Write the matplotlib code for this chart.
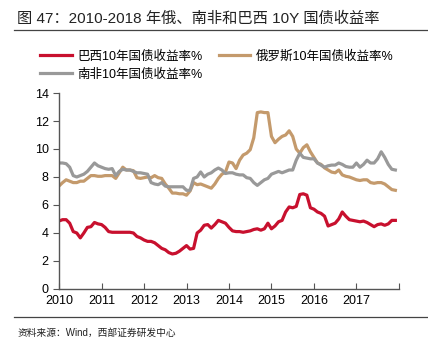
import matplotlib
matplotlib.use('Agg')
import matplotlib.pyplot as plt
import numpy as np

plt.rcParams['font.family'] = ['Liberation Sans', 'Noto Sans CJK SC', 'DejaVu Sans']

# monthly data, Jan 2010 .. Dec 2017
brazil = [4.86, 4.95, 4.95, 4.7, 4.1, 4.0, 3.65, 4.0, 4.4, 4.45, 4.75, 4.65,
          4.6, 4.4, 4.1, 4.05, 4.05, 4.05, 4.05, 4.05, 4.05, 4.0, 3.75, 3.65,
          3.5, 3.4, 3.4, 3.3, 3.1, 2.9, 2.8, 2.6, 2.5, 2.55, 2.7, 2.9,
          3.1, 2.85, 2.9, 4.0, 4.2, 4.55, 4.6, 4.35, 4.6, 4.9, 4.8, 4.7,
          4.4, 4.15, 4.1, 4.1, 4.05, 4.1, 4.15, 4.25, 4.3, 4.2, 4.3, 4.7,
          4.3, 4.5, 4.8, 4.9, 5.5, 5.86, 5.8, 5.9, 6.75, 6.8, 6.7, 5.8,
          5.7, 5.5, 5.4, 5.2, 4.5, 4.6, 4.7, 5.0, 5.5, 5.2, 4.95, 4.9,
          4.85, 4.8, 4.85, 4.75, 4.6, 4.45, 4.6, 4.65, 4.55, 4.65, 4.9, 4.9]
russia = [7.36, 7.6, 7.8, 7.7, 7.6, 7.6, 7.7, 7.7, 7.9, 8.1, 8.1, 8.05,
          8.05, 8.1, 8.1, 8.1, 7.9, 8.3, 8.7, 8.5, 8.5, 8.45, 7.95, 7.9,
          7.95, 8.0, 7.95, 8.1, 7.95, 7.9, 7.5, 7.2, 6.85, 6.85, 6.8, 6.8,
          6.7, 7.0, 7.6, 7.45, 7.5, 7.4, 7.3, 7.2, 7.5, 7.9, 8.2, 8.35,
          9.07, 9.0, 8.6, 9.2, 9.57, 9.7, 9.95, 10.8, 12.6, 12.65, 12.6, 12.6,
          10.9, 10.45, 10.7, 10.9, 11.0, 11.3, 10.9, 10.0, 9.7, 10.1, 10.3, 9.8,
          9.4, 9.0, 8.9, 8.65, 8.5, 8.35, 8.3, 8.5, 8.15, 8.05, 8.0, 7.9,
          7.8, 7.75, 7.8, 7.8, 7.6, 7.55, 7.6, 7.6, 7.5, 7.3, 7.1, 7.05]
safrica = [9.0, 9.0, 8.95, 8.7, 8.1, 8.0, 8.1, 8.2, 8.4, 8.7, 9.0, 8.8,
           8.7, 8.6, 8.55, 8.6, 8.1, 8.4, 8.55, 8.5, 8.5, 8.4, 8.3, 8.3,
           8.25, 8.2, 7.6, 7.5, 7.45, 7.6, 7.35, 7.3, 7.3, 7.3, 7.3, 7.3,
           7.05, 7.05, 7.9, 8.0, 8.36, 8.0, 8.2, 8.3, 8.5, 8.64, 8.5, 8.25,
           8.3, 8.3, 8.2, 8.15, 8.15, 7.95, 7.9, 7.6, 7.4, 7.6, 7.8, 7.9,
           8.2, 8.3, 8.4, 8.3, 8.4, 8.5, 8.5, 9.2, 9.7, 9.4, 9.35, 9.3,
           9.3, 9.0, 8.85, 8.7, 8.8, 8.85, 8.85, 9.0, 8.9, 8.75, 8.7, 8.7,
           9.0, 8.7, 8.9, 9.2, 9.0, 9.0, 9.3, 9.8, 9.4, 8.9, 8.55, 8.5]
years = list(range(2010, 2018))
labels = ['巴西10年国债收益率%', '俄罗斯10年国债收益率%', '南非10年国债收益率%']

t = 2010 + np.arange(len(brazil)) / 12.0

fig = plt.figure(figsize=(4.28, 3.55), dpi=100)
ax = fig.add_axes([0.138, 0.186, 0.794, 0.552])

l1, = ax.plot(t, brazil, color='#C8102E', lw=2.3)
l2, = ax.plot(t, russia, color='#C49A6C', lw=2.3)
l3, = ax.plot(t, safrica, color='#999999', lw=2.3)

ax.set_xlim(2010, 2018)
ax.set_ylim(0, 14)
ax.set_yticks(range(0, 15, 2))
ax.set_xticks(list(years) + [2018])
ax.set_xticklabels([str(y) for y in years] + [''])
for s in ['top', 'right']:
    ax.spines[s].set_visible(False)
for s in ['left', 'bottom']:
    ax.spines[s].set_color('#555555')
    ax.spines[s].set_linewidth(1.0)
ax.tick_params(axis='x', direction='in', length=4, color='#555555', labelsize=9, pad=4)
ax.tick_params(axis='y', direction='out', length=4, color='#555555', labelsize=9)

# column-wise fill: brazil + south africa in col 1, russia in col 2
fig.legend([l1, l3, l2], [labels[0], labels[2], labels[1]], loc='upper left',
           bbox_to_anchor=(0.068, 0.89),
           ncol=2, frameon=False, fontsize=9, handlelength=2.5, handletextpad=0.45,
           columnspacing=1.3, labelspacing=0.45)

fig.text(0.04, 0.948, '图 47：2010-2018 年俄、南非和巴西 10Y 国债收益率', fontsize=11,
         va='center', ha='left', color='#222222')
fig.add_artist(plt.Line2D([0.033, 1.0], [0.915, 0.915], color='#444444', lw=0.9))
fig.add_artist(plt.Line2D([0.033, 1.0], [0.108, 0.108], color='#444444', lw=0.9))
fig.text(0.04, 0.062, '资料来源：Wind，西部证券研发中心', fontsize=7, va='center', ha='left',
         color='#222222')

fig.savefig('out.png', dpi=100)
